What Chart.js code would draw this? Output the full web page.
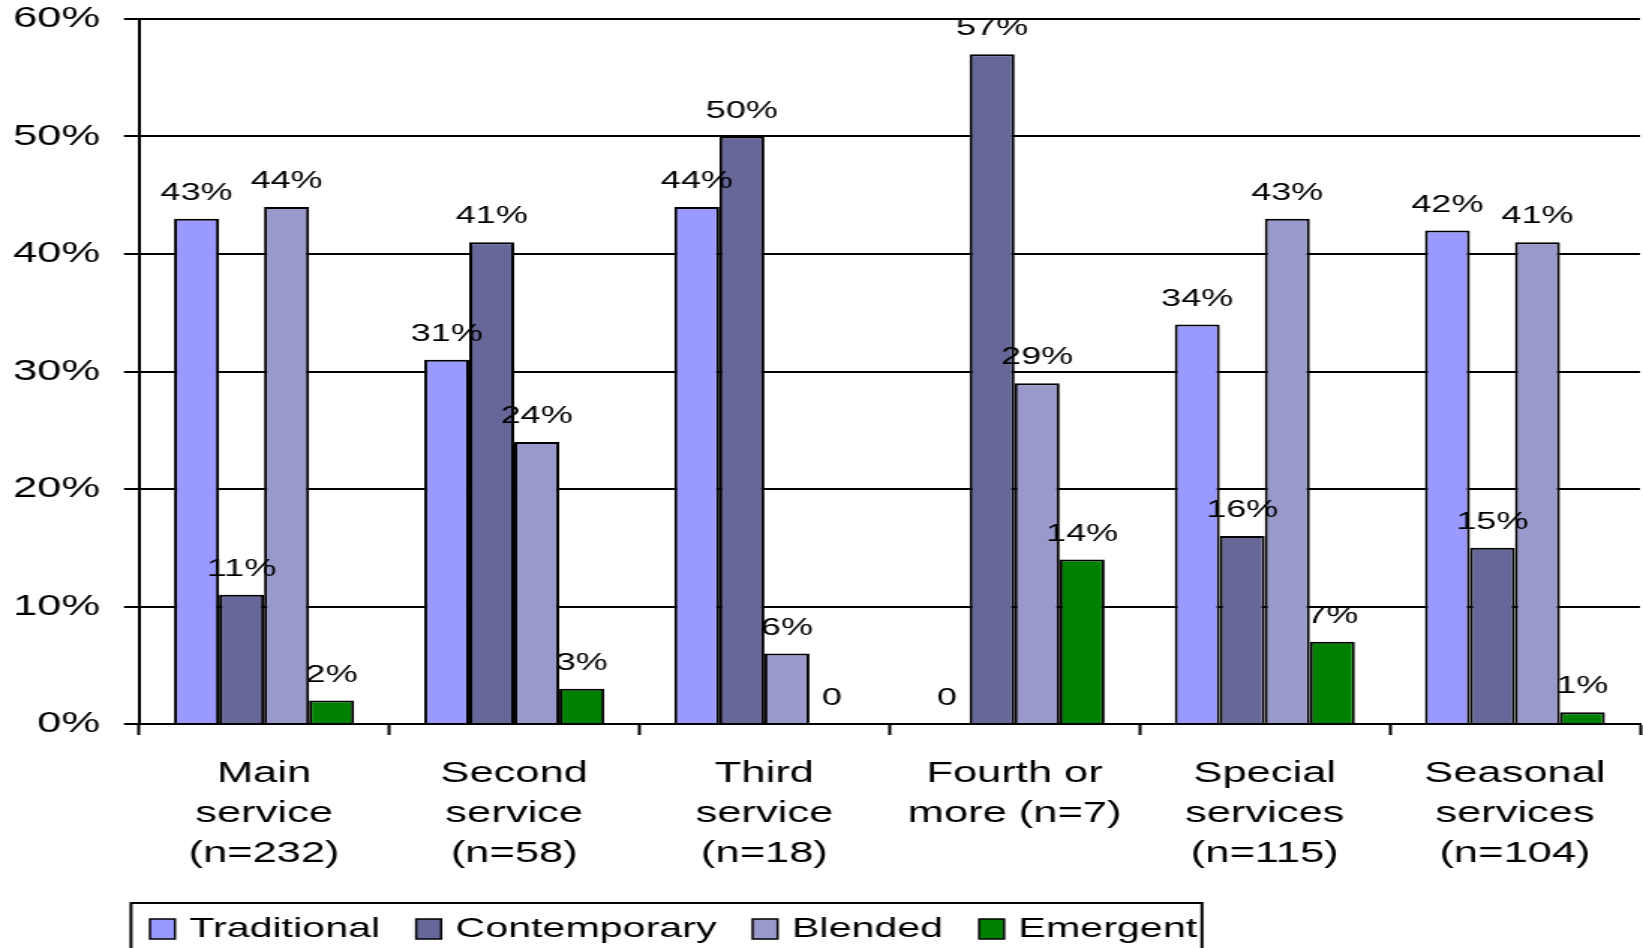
<!DOCTYPE html>
<html>
<head>
<meta charset="utf-8">
<script src="https://cdn.jsdelivr.net/npm/chart.js@4.4.1/dist/chart.umd.min.js"></script>
<style>
html, body { margin: 0; padding: 0; background: #fff; overflow: hidden; }
#wrap { width: 1096px; height: 948px; transform: scaleX(1.49909); transform-origin: 0 0; }
</style>
</head>
<body>
<div id="wrap"><canvas id="grafico" width="1096" height="948"></canvas></div>
<script>
const categorias = [
    ['Main', 'service', '(n=232)'],
    ['Second', 'service', '(n=58)'],
    ['Third', 'service', '(n=18)'],
    ['Fourth or', 'more (n=7)'],
    ['Special', 'services', '(n=115)'],
    ['Seasonal', 'services', '(n=104)']
];
const tradicional = [43, 31, 44, 0, 34, 42];
const contemporaneo = [11, 41, 50, 57, 16, 15];
const mezclado = [44, 24, 6, 29, 43, 41];
const emergente = [2, 3, 0, 14, 7, 1];
const series = ['Traditional', 'Contemporary', 'Blended', 'Emergent'];
const yTicks = [0, 10, 20, 30, 40, 50, 60];

const colores = ['#9999FF', '#666699', '#9999CC', '#008000'];
const fuente = '"Liberation Sans", Arial, sans-serif';

// numeros encima de cada barra
const etiquetas = {
    id: 'etiquetas',
    afterDatasetsDraw(chart) {
        const ctx = chart.ctx;
        ctx.save();
        ctx.font = '24px ' + fuente;
        ctx.fillStyle = '#000';
        ctx.textAlign = 'center';
        ctx.textBaseline = 'alphabetic';
        chart.data.datasets.forEach((ds, i) => {
            chart.getDatasetMeta(i).data.forEach((bar, j) => {
                const v = ds.data[j];
                ctx.fillText(v === 0 ? '0' : v + '%', bar.x, bar.y - 19);
            });
        });
        ctx.restore();
    }
};

// leyenda con recuadro (cortada abajo como en el original)
const leyenda = {
    id: 'leyenda',
    afterDraw(chart) {
        const ctx = chart.ctx;
        ctx.save();
        ctx.strokeStyle = '#000';
        ctx.lineWidth = 2;
        ctx.strokeRect(87.4, 903, 714.4, 70);
        ctx.font = '27.5px ' + fuente;
        ctx.textBaseline = 'middle';
        ctx.textAlign = 'left';
        let x = 100;
        chart.data.datasets.forEach((ds) => {
            ctx.fillStyle = ds.backgroundColor;
            ctx.fillRect(x, 919, 16.7, 20);
            ctx.lineWidth = 1.5;
            ctx.strokeRect(x, 919, 16.7, 20);
            ctx.fillStyle = '#000';
            const tx = x + 16.7 + 9.5;
            ctx.fillText(ds.label, tx, 929);
            x = tx + ctx.measureText(ds.label).width + 24;
        });
        ctx.restore();
    }
};

const ctx = document.getElementById('grafico');
const myChart = new Chart(ctx, {
    type: 'bar',
    data: {
        labels: categorias,
        datasets: [tradicional, contemporaneo, mezclado, emergente].map((d, i) => ({
            label: series[i],
            data: d,
            backgroundColor: colores[i],
            borderColor: '#000',
            borderWidth: 2,
            borderSkipped: 'bottom',
            categoryPercentage: 0.72,
            barPercentage: 1.0
        }))
    },
    options: {
        responsive: false,
        animation: false,
        layout: { padding: { left: 0, top: 19, right: 2, bottom: 0 } },
        plugins: {
            legend: { display: false },
            tooltip: { enabled: false }
        },
        scales: {
            x: {
                grid: { drawOnChartArea: false, drawTicks: true, tickLength: 11, tickWidth: 2, tickColor: '#000', offset: true },
                border: { display: true, color: '#000', width: 2 },
                ticks: {
                    color: '#000',
                    font: { family: fuente, size: 29, lineHeight: 1.38 },
                    padding: 19,
                    maxRotation: 0,
                    autoSkip: false
                },
                afterFit(scale) { scale.height = 224; }
            },
            y: {
                min: 0,
                max: 60,
                afterBuildTicks(scale) { scale.ticks = yTicks.map(v => ({ value: v })); },
                grid: { color: '#000', lineWidth: 2, tickLength: 10, tickWidth: 2, tickColor: '#000' },
                border: { display: true, color: '#000', width: 2 },
                ticks: {
                    color: '#000',
                    font: { family: fuente, size: 29 },
                    padding: 16,
                    callback: v => v + '%'
                },
                afterFit(scale) {
                    scale.width = 92.7;
                    scale.paddingTop = 0;
                    scale.paddingBottom = 0;
                }
            }
        }
    },
    plugins: [etiquetas, leyenda]
});
</script>
</body>
</html>
